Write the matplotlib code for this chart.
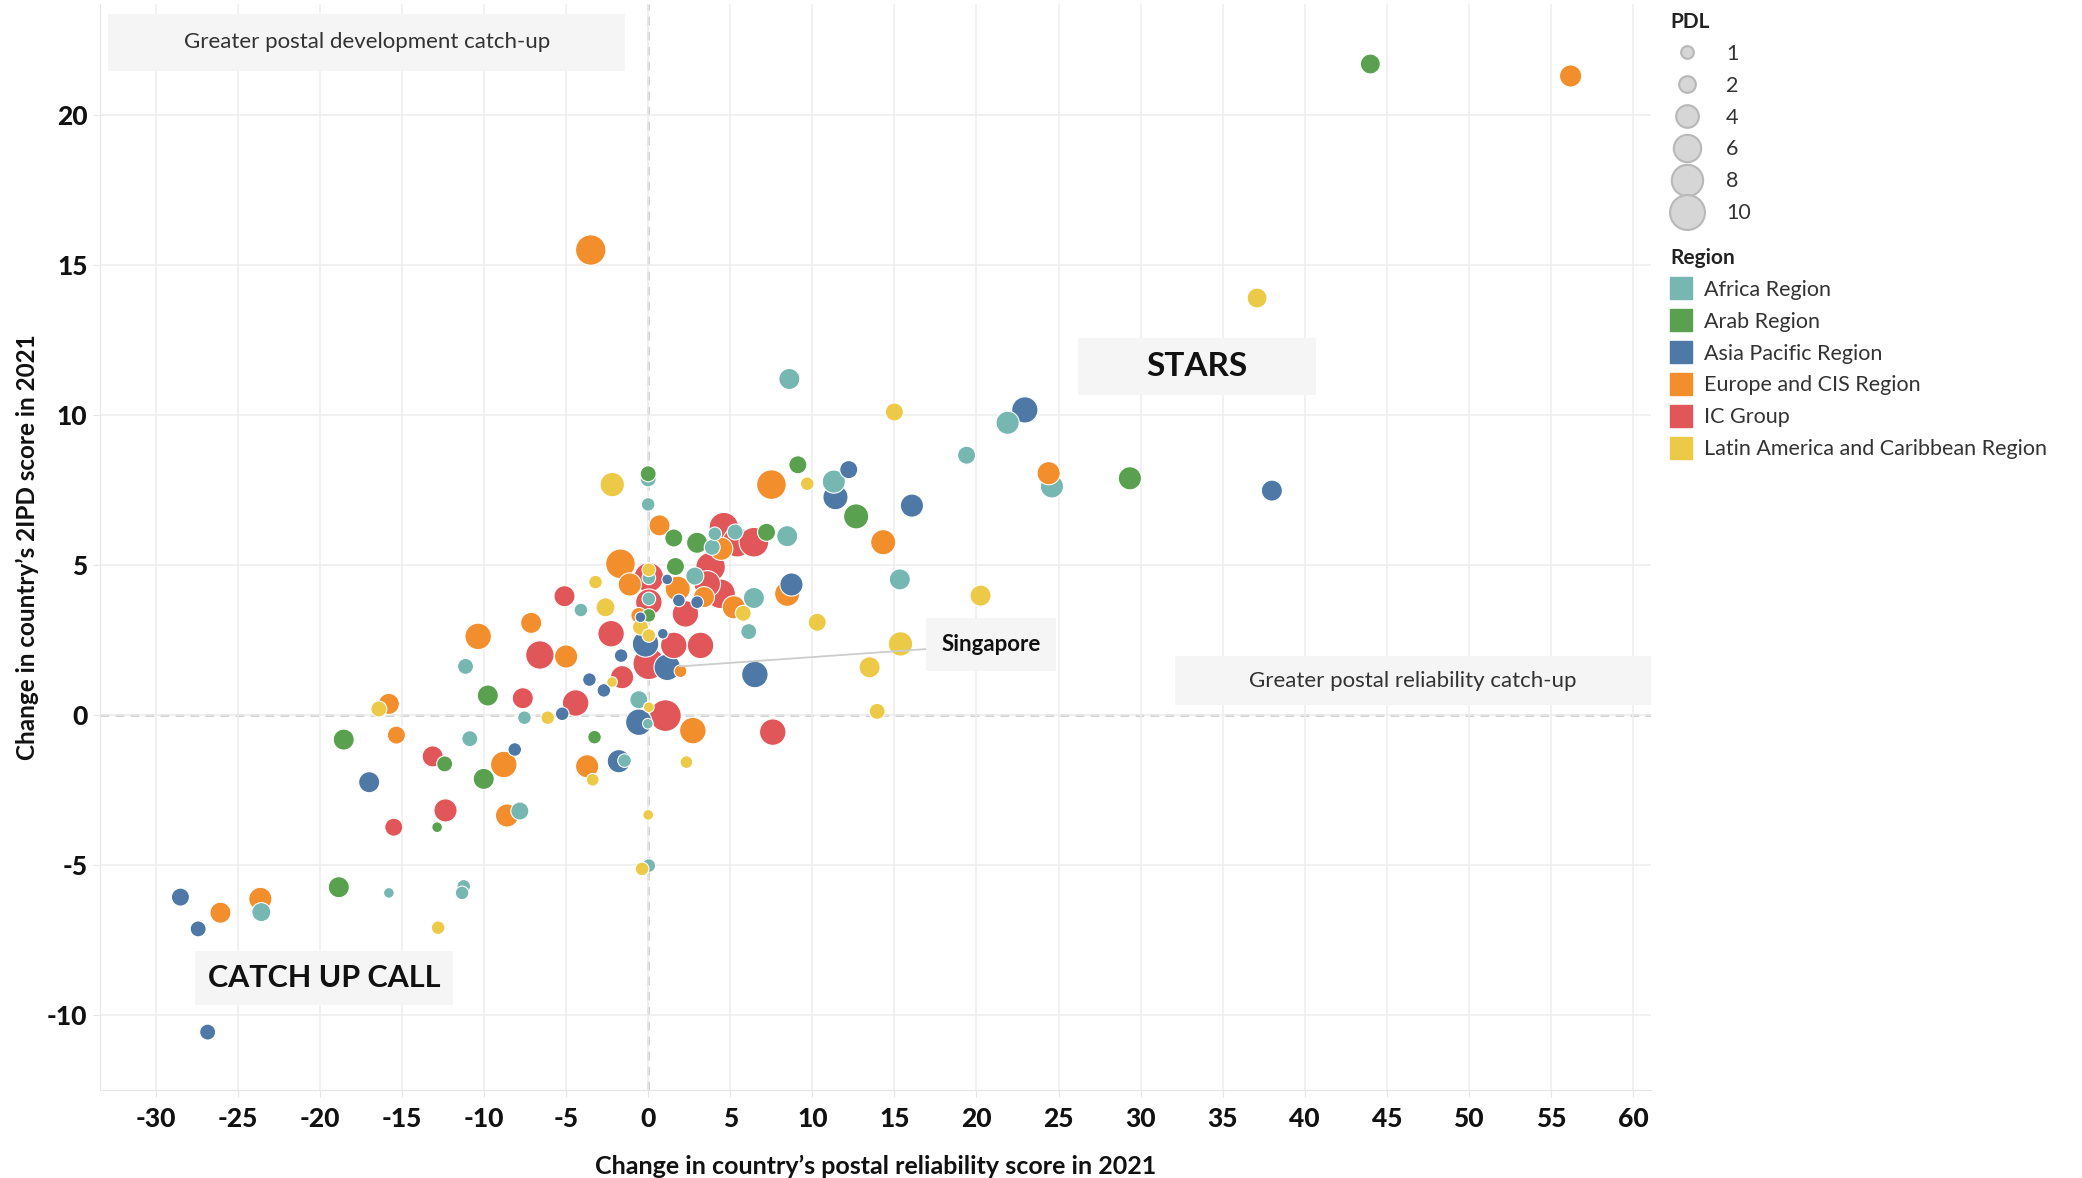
"""
Bubble chart: change in postal reliability score vs change in 2IPD score, 2021.
Bubble size = PDL, colour = UPU region.
"""
import matplotlib
matplotlib.use("Agg")
import matplotlib.pyplot as plt
from matplotlib.lines import Line2D
from matplotlib.patches import Rectangle
import numpy as np

plt.rcParams["font.family"] = ["Lato", "DejaVu Sans"]
plt.rcParams["axes.unicode_minus"] = False

REGIONS = ["Africa Region", "Arab Region", "Asia Pacific Region",
           "Europe and CIS Region", "IC Group", "Latin America and Caribbean Region"]
COLORS = ["#76B7B2", "#59A14F", "#4E79A7", "#F28E2B", "#E15759", "#EDC948"]

# --- data: (reliability change, 2IPD change, PDL) per region ---
africa_x = [8.6, 21.9, 19.4, 24.6, 11.31, 8.47, 15.33, 0.0, 0.0, 0.04, 0.04, 2.84, 4.06, 3.9,
            5.3, 6.44, -4.1, -0.57, -0.02, 6.13, -1.44, -11.13, -7.54, -10.87, -7.82,
            -15.8, -23.57, 0.04, -11.24, -11.34]
africa_y = [11.2, 9.74, 8.66, 7.62, 7.78, 5.96, 4.52, 7.87, 7.02, 4.57, 3.87, 4.63, 6.04, 5.59,
            6.1, 3.9, 3.5, 0.51, -0.29, 2.78, -1.52, 1.62, -0.09, -0.79, -3.2,
            -5.93, -6.57, -5.02, -5.71, -5.93]
africa_pdl = [3.4, 4.2, 2.4, 4.2, 4.2, 3.4, 3.4, 1.8, 1.2, 1.2, 1.2, 2.4, 1.2, 1.8,
              1.8, 3.4, 1.2, 2.4, 0.6, 1.8, 1.2, 1.8, 1.2, 1.8, 2.4,
              0.6, 2.7, 1.2, 1.2, 1.2]

arab_x = [44.0, 29.35, 9.12, 12.67, 0.0, 1.56, 2.98, 1.66, 7.21, 0.04, -3.27, -9.77,
          -12.4, -10.02, -12.86, -18.55, -18.85]
arab_y = [21.7, 7.89, 8.34, 6.62, 8.04, 5.9, 5.74, 4.95, 6.09, 3.32, -0.74, 0.65,
          -1.63, -2.13, -3.74, -0.82, -5.74]
arab_pdl = [3.0, 4.2, 2.4, 5.0, 1.8, 2.4, 3.4, 2.4, 2.4, 1.2, 1.2, 3.4,
            1.8, 3.4, 0.6, 3.4, 3.4]

asia_x = [22.95, 38.0, 12.22, 11.41, 16.07, 8.73, 1.16, 1.87, 2.98, -0.47, 0.89, -0.16,
          -1.65, 1.16, -3.58, -2.7, -5.24, -0.57, 6.5, -1.79, -8.13, -17.0,
          -28.5, -27.42, -26.84]
asia_y = [10.17, 7.48, 8.18, 7.26, 6.98, 4.35, 4.52, 3.82, 3.76, 3.26, 2.71, 2.37,
          1.98, 1.59, 1.18, 0.82, 0.04, -0.24, 1.35, -1.54, -1.15, -2.24,
          -6.07, -7.13, -10.57]
asia_pdl = [5.5, 3.4, 2.4, 5.0, 4.2, 4.2, 0.6, 1.0, 1.0, 0.6, 0.6, 5.6,
            1.2, 5.6, 1.2, 1.2, 1.2, 5.6, 5.6, 4.2, 1.2, 3.4,
            2.4, 1.8, 1.8]

europe_x = [56.2, -3.5, 24.4, 14.32, 7.51, 8.47, 0.69, -1.69, -1.12, 1.80, 4.45, 3.4,
            5.22, -0.57, -5.0, 1.97, 2.72, -3.72, -7.13, -10.36, -15.8, -15.34,
            -8.8, -8.6, -26.06, -23.63]
europe_y = [21.3, 15.5, 8.06, 5.76, 7.68, 4.04, 6.32, 5.04, 4.35, 4.21, 5.54, 3.93,
            3.59, 3.32, 1.95, 1.46, -0.52, -1.71, 3.07, 2.62, 0.37, -0.67,
            -1.65, -3.35, -6.59, -6.13]
europe_pdl = [3.8, 7.5, 4.2, 5.0, 7.1, 5.0, 3.4, 7.1, 4.2, 5.0, 4.2, 3.4,
              4.2, 1.8, 4.2, 1.0, 5.6, 4.2, 3.4, 5.6, 3.4, 2.4,
              5.6, 4.2, 3.4, 4.2]

ic_x = [0.04, 0.04, 3.8, 4.61, 5.42, 6.44, 4.41, 3.6, 2.27, -5.1, -2.26, 1.56, 3.19,
        -6.6, 0.04, -1.59, -4.42, 1.05, 7.59, -7.64, -13.13, -12.35, -15.5]
ic_y = [4.59, 3.76, 4.93, 6.26, 5.76, 5.76, 4.04, 4.37, 3.37, 3.96, 2.71, 2.32, 2.32,
        2.0, 1.71, 1.26, 0.4, -0.02, -0.57, 0.56, -1.38, -3.18, -3.74]
ic_pdl = [7.1, 5.6, 7.1, 7.1, 7.1, 7.1, 7.1, 5.6, 5.6, 3.4, 5.6, 5.6, 5.6,
          6.5, 8.2, 4.2, 5.6, 8.2, 5.6, 3.4, 3.4, 4.2, 2.4]

latam_x = [37.1, 15.0, 9.69, 20.25, 10.3, 15.37, 13.49, 13.95, -2.19, -3.21, 0.04,
           -2.6, -0.47, 0.04, 5.79, -2.2, -6.12, 0.04, -3.38, 2.33, -16.41, 0.0,
           -0.37, -12.8]
latam_y = [13.9, 10.1, 7.71, 3.98, 3.09, 2.37, 1.59, 0.12, 7.68, 4.43, 4.84,
           3.59, 2.93, 2.65, 3.39, 1.1, -0.09, 0.26, -2.16, -1.57, 0.2, -3.33,
           -5.13, -7.09]
latam_pdl = [3.0, 2.4, 1.2, 3.4, 2.4, 4.7, 3.4, 1.8, 4.7, 1.2, 1.2,
             2.7, 1.8, 1.2, 1.8, 0.6, 1.2, 0.6, 1.0, 1.0, 1.8, 0.6,
             1.2, 1.2]

singapore = (1.16, 1.59)
pdl_legend = [1, 2, 4, 6, 8, 10]
x_ticks = list(range(-30, 61, 5))
y_ticks = list(range(-10, 21, 5))


def bubble_area(p):
    # area grows linearly with PDL (points^2)
    return 1.12 * (20.2 + 54.4 * np.asarray(p, dtype=float))


def main():
    fig = plt.figure(figsize=(20.82, 11.78), dpi=100)
    W, H = 2082, 1178
    ax = fig.add_axes([100 / W, 1 - 1090 / H, 1551 / W, 1086 / H])

    xs = africa_x + arab_x + asia_x + europe_x + ic_x + latam_x
    ys = africa_y + arab_y + asia_y + europe_y + ic_y + latam_y
    ps = africa_pdl + arab_pdl + asia_pdl + europe_pdl + ic_pdl + latam_pdl
    reg = ([0] * len(africa_x) + [1] * len(arab_x) + [2] * len(asia_x) +
           [3] * len(europe_x) + [4] * len(ic_x) + [5] * len(latam_x))
    xs, ys, ps, reg = map(np.asarray, (xs, ys, ps, reg))
    order = np.argsort(-ps, kind="stable")  # big bubbles underneath
    cols = np.array(COLORS)[reg[order]]

    ax.scatter(xs[order], ys[order], s=bubble_area(ps[order]), c=cols,
               edgecolors="white", linewidths=0.8, zorder=3)

    ax.set_xlim(-33.4, 61.1)
    ax.set_ylim(-12.5, 23.7)
    ax.set_xticks(x_ticks, labels=[str(v) for v in x_ticks],
                  fontweight="black", fontsize=19, color="#111111")
    ax.set_yticks(y_ticks, labels=[str(v) for v in y_ticks],
                  fontweight="black", fontsize=19, color="#111111")
    ax.grid(True, color="#ededed", lw=1.1, zorder=0)
    ax.axhline(0, color="#c4c4c4", lw=1.8, ls=(0, (3.5, 2.5)), zorder=1)
    ax.axvline(0, color="#c4c4c4", lw=1.8, ls=(0, (3.5, 2.5)), zorder=1)
    for side in ("top", "right"):
        ax.spines[side].set_visible(False)
    for side in ("left", "bottom"):
        ax.spines[side].set_color("#e6e6e6")
    ax.tick_params(length=5, color="#e6e6e6")
    ax.tick_params(axis="x", pad=7)
    ax.tick_params(axis="y", pad=4)

    ax.set_xlabel("Change in country\u2019s postal reliability score in 2021",
                  fontsize=18, fontweight="bold", color="#111111", labelpad=17)
    ax.set_ylabel("Change in country\u2019s 2IPD score in 2021",
                  fontsize=17.5, fontweight="bold", color="#111111", labelpad=6)

    # quadrant captions
    box_fc = "#f5f5f5"
    captions = [
        ((-32.9, 21.48), 31.5, 1.9, "Greater postal development catch-up", 16, "normal", "#333333"),
        ((32.08, 0.32), 29.0, 1.63, "Greater postal reliability catch-up", 16, "normal", "#333333"),
        ((26.17, 10.68), 14.5, 1.9, "STARS", 24, "bold", "#111111"),
        ((-27.6, -9.68), 15.7, 1.8, "CATCH UP CALL", 22, "bold", "#111111"),
    ]
    for (x0, y0), w, h, txt, fs, fw, col in captions:
        ax.add_patch(Rectangle((x0, y0), w, h, fc=box_fc, ec="none", zorder=2))
        ax.text(x0 + w / 2, y0 + h / 2, txt, ha="center", va="center",
                fontsize=fs, fontweight=fw, color=col, zorder=4)

    ax.annotate("Singapore", xy=singapore, xytext=(20.9, 2.35),
                ha="center", va="center", fontsize=16, fontweight="bold", color="#111111",
                bbox=dict(boxstyle="square,pad=0.7", fc=box_fc, ec="none"),
                arrowprops=dict(arrowstyle="-", color="#cccccc", lw=1.3,
                                shrinkA=0, shrinkB=9),
                zorder=5)

    # legends
    size_handles = [Line2D([], [], ls="none", marker="o",
                           markersize=np.sqrt(bubble_area(p)),
                           markerfacecolor="#d6d6d6", markeredgecolor="#b8b8b8",
                           markeredgewidth=1.5) for p in pdl_legend]
    leg1 = fig.legend(size_handles, [str(p) for p in pdl_legend],
                      title="PDL", loc="upper left", bbox_to_anchor=(1670 / W, 1 - 12 / H),
                      frameon=False, fontsize=15.5, labelcolor="#333333",
                      title_fontproperties={"weight": "bold", "size": 15},
                      alignment="left", labelspacing=0.55, handletextpad=1.0,
                      borderpad=0, borderaxespad=0, handlelength=1.6)
    leg1.get_title().set_color("#222222")

    region_handles = [Line2D([], [], ls="none", marker="s", markersize=16,
                             markerfacecolor=c, markeredgecolor=c) for c in COLORS]
    leg2 = fig.legend(region_handles, REGIONS, title="Region", loc="upper left",
                      bbox_to_anchor=(1670 / W, 1 - 248 / H), frameon=False,
                      fontsize=15.5, labelcolor="#333333",
                      title_fontproperties={"weight": "bold", "size": 15},
                      alignment="left", labelspacing=0.55, handletextpad=0.6,
                      borderpad=0, borderaxespad=0, handlelength=1.0)
    leg2.get_title().set_color("#222222")

    fig.savefig("out.png", dpi=100, facecolor="white")
    print("Saved out.png")


if __name__ == "__main__":
    main()
